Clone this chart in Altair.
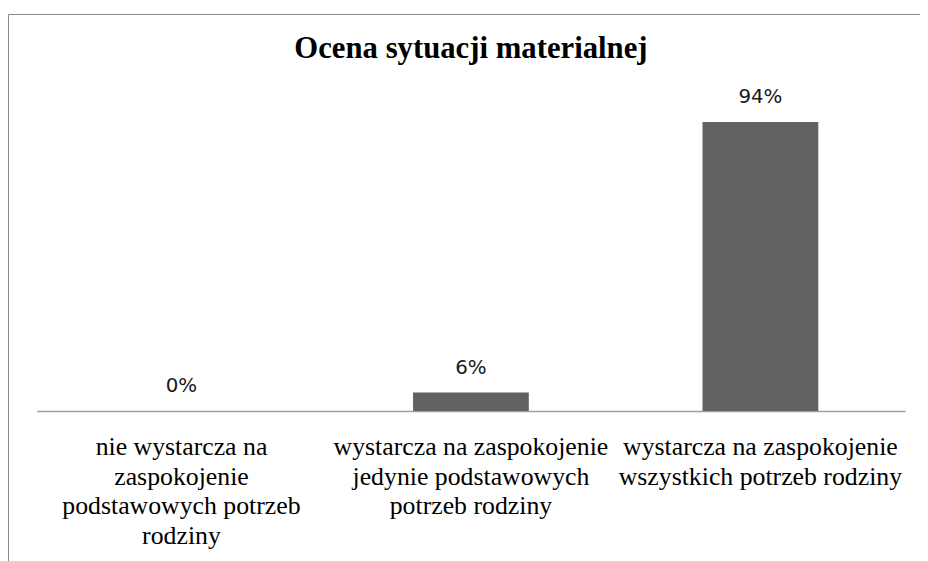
import altair as alt
import pandas as pd

categories = [
    "nie wystarcza na\nzaspokojenie\npodstawowych potrzeb\nrodziny",
    "wystarcza na zaspokojenie\njedynie podstawowych\npotrzeb rodziny",
    "wystarcza na zaspokojenie\nwszystkich potrzeb rodziny",
]
values = [0.0, 0.06, 0.94]
title_text = "Ocena sytuacji materialnej"

SERIF = "Liberation Serif"

df = pd.DataFrame({"kategoria": categories, "wartosc": values})

x_enc = alt.X(
    "kategoria:N",
    sort=categories,
    title=None,
    scale=alt.Scale(paddingInner=0.6, paddingOuter=0.3),
    axis=alt.Axis(
        labelAngle=0,
        labelExpr="split(datum.label, '\\n')",
        labelFont=SERIF,
        labelFontSize=26,
        labelLineHeight=30,
        labelColor="#000000",
        labelPadding=23,
        labelLimit=400,
        ticks=False,
        tickSize=0,
        domainColor="#a0a0a0",
        domainWidth=1.5,
        grid=False,
    ),
)
y_enc = alt.Y("wartosc:Q", scale=alt.Scale(domain=[0, 1]), axis=None)

base = alt.Chart(df)

bars = base.mark_bar(color="#626262").encode(x=x_enc, y=y_enc)

labels = base.mark_text(
    font="DejaVu Sans",
    fontSize=20,
    color="#1a1a1a",
    baseline="alphabetic",
    dy=-19,
).encode(
    x=x_enc,
    y=y_enc,
    text=alt.Text("wartosc:Q", format=".0%"),
)

border = alt.Chart(alt.Data(values=[{"a": 1}])).mark_rect(
    fillOpacity=0, stroke="#868686", strokeWidth=1
).encode(
    x=alt.value(-28.5), x2=alt.value(940), y=alt.value(-89.9), y2=alt.value(520)
)

chart = (
    alt.layer(border, bars, labels)
    .properties(
        width=876,
        height=310,
        autosize="none",
        background="white",
        padding={"left": 29, "top": 94, "right": 15, "bottom": 149},
        title=alt.TitleParams(
            text=title_text,
            font=SERIF,
            fontSize=31,
            fontWeight="bold",
            color="#000000",
            anchor="middle",
            baseline="alphabetic",
            offset=-75,
        ),
    )
    .configure_view(strokeWidth=0)
    .configure_axisX(labelFont=SERIF, labelFontSize=26, labelColor="#000000")
)

chart.save("out.html", embed_options={"renderer": "svg", "actions": False})
